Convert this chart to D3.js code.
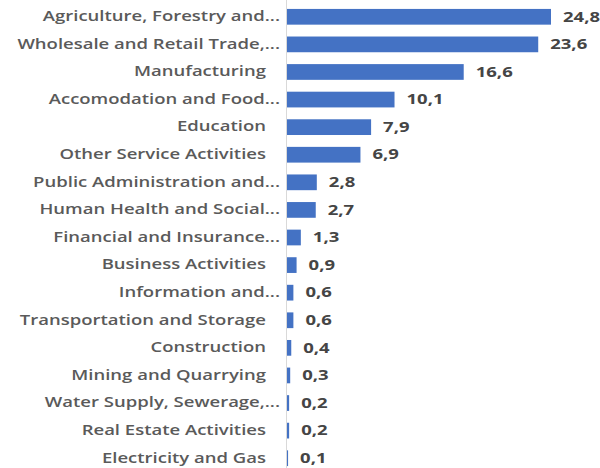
<!DOCTYPE html>
<html>
<head>
<meta charset="utf-8">
<script src="https://cdn.jsdelivr.net/npm/d3@7"></script>
<style>
  body { margin: 0; background: #fff; }
  .grafico text { font-family: "Open Sans", sans-serif; }
</style>
</head>
<body>
<div class="grafico"></div>
<script>
// data
const categories = [
  "Agriculture, Forestry and...",
  "Wholesale and Retail Trade,...",
  "Manufacturing",
  "Accomodation and Food...",
  "Education",
  "Other Service Activities",
  "Public Administration and...",
  "Human Health and Social...",
  "Financial and Insurance...",
  "Business Activities",
  "Information and...",
  "Transportation and Storage",
  "Construction",
  "Mining and Quarrying",
  "Water Supply, Sewerage,...",
  "Real Estate Activities",
  "Electricity and Gas"
];
const values = [24.8, 23.6, 16.6, 10.1, 7.9, 6.9, 2.8, 2.7, 1.3, 0.9, 0.6, 0.6, 0.4, 0.3, 0.2, 0.2, 0.1];

const datos = categories.map((c, i) => ({ name: c, value: values[i] }));

var margin = { top: 3, left: 286 },
  width = 600,
  height = 468;
// the source picture is stretched sideways
const stretch = 1.37;

let svg = d3.select(".grafico")
  .append("svg")
  .attr("width", width)
  .attr("height", height);

const x = d3.scaleLinear()
  .domain([0, 24.8])
  .range([0, 264]);

const y = d3.scaleBand()
  .domain(categories)
  .range([0, 469])
  .paddingInner(0.43)
  .paddingOuter(0.215);

const g = svg.append("g")
  .attr("transform", "translate(" + margin.left + "," + margin.top + ")");

// bars
g.selectAll("rect")
  .data(datos)
  .enter().append("rect")
  .attr("x", 1)
  .attr("y", d => y(d.name))
  .attr("width", d => x(d.value))
  .attr("height", y.bandwidth())
  .attr("fill", "#4472c4");

// category axis
const yAxis = d3.axisLeft(y).tickSize(0).tickPadding(5);
const ax = g.append("g")
  .attr("class", "y axis")
  .call(yAxis);
ax.select(".domain")
  .attr("stroke", "#d9d9d9")
  .attr("d", "M0.5,-3V" + (height - margin.top));
ax.selectAll("text")
  .attr("x", 0)
  .attr("transform", d => "translate(" + (d.endsWith("...") ? -6 : -20) + ",0) scale(" + stretch + ",1)")
  .attr("fill", "#5a5a5a")
  .attr("font-size", 13.5)
  .attr("font-weight", 600);

// value labels
g.selectAll(".val")
  .data(datos)
  .enter().append("text")
  .attr("class", "val")
  .attr("transform", d => "translate(" + (x(d.value) + 13) + "," + (y(d.name) + y.bandwidth() / 2) + ") scale(" + stretch + ",1)")
  .attr("dy", "0.35em")
  .attr("fill", "#454545")
  .attr("font-size", 13.5)
  .attr("font-weight", 700)
  .text(d => d3.format(".1f")(d.value).replace(".", ","));
</script>
</body>
</html>
